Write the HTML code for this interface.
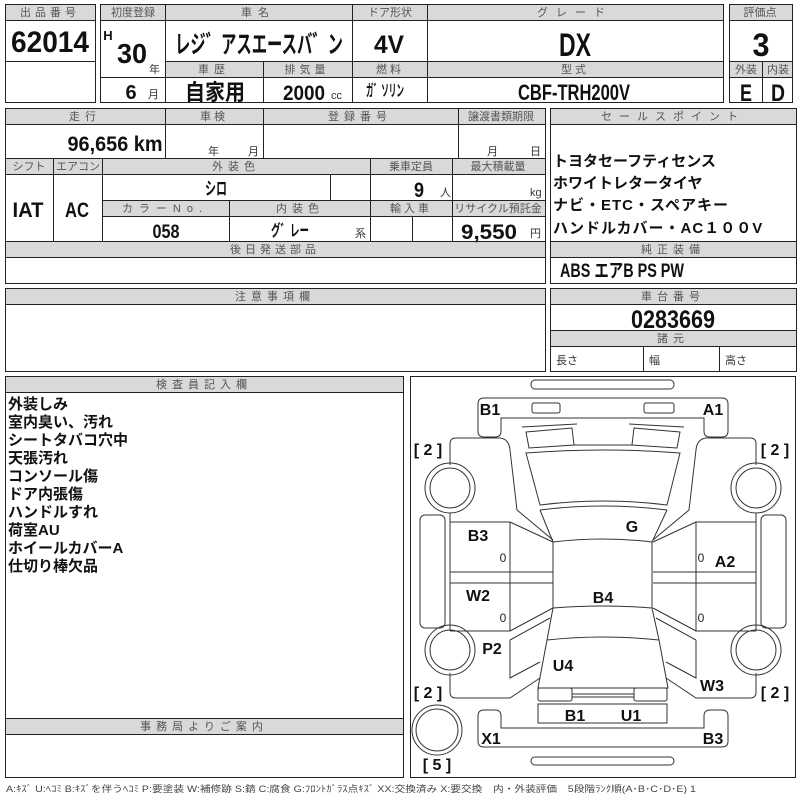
<!DOCTYPE html>
<html><head><meta charset="utf-8"><style>
html,body{margin:0;padding:0;background:#fff;}
svg{display:block;}
.h{font-family:"Liberation Sans","Noto Sans CJK JP",sans-serif;font-size:11px;fill:#555;text-anchor:middle;}
.v{font-family:"Liberation Sans","Noto Sans CJK JP",sans-serif;font-weight:bold;fill:#111;text-anchor:middle;}
.j{font-family:"Liberation Sans","Noto Sans CJK JP",sans-serif;font-weight:bold;fill:#111;}
.l{font-family:"Liberation Sans","Noto Sans CJK JP",sans-serif;font-weight:bold;font-size:16px;fill:#111;text-anchor:middle;}
.s{font-family:"Liberation Sans","Noto Sans CJK JP",sans-serif;font-size:11px;fill:#333;}
</style></head><body>
<svg width="800" height="800" viewBox="0 0 800 800" xmlns="http://www.w3.org/2000/svg">
<g fill="#d9d9d9" stroke="none">
<rect x="5" y="4" width="90" height="16"/>
<rect x="100" y="4" width="623" height="16"/>
<rect x="165" y="61" width="558" height="16"/>
<rect x="729" y="4" width="63" height="16"/>
<rect x="729" y="61" width="63" height="16"/>
<rect x="5" y="108" width="540" height="16"/>
<rect x="5" y="158" width="540" height="16"/>
<rect x="102" y="200" width="443" height="16"/>
<rect x="5" y="241" width="540" height="16"/>
<rect x="550" y="108" width="246" height="16"/>
<rect x="550" y="241" width="246" height="16"/>
<rect x="5" y="288" width="540" height="16"/>
<rect x="550" y="288" width="246" height="16"/>
<rect x="550" y="330" width="246" height="16"/>
<rect x="5" y="376" width="398" height="16"/>
<rect x="5" y="718" width="398" height="16"/>
</g>
<g fill="none" stroke="#222" stroke-width="1">
<rect x="5.5" y="4.5" width="90" height="98"/>
<line x1="5" y1="20.5" x2="95" y2="20.5"/><line x1="5" y1="61.5" x2="95" y2="61.5"/>
<rect x="100.5" y="4.5" width="623" height="98"/>
<line x1="100" y1="20.5" x2="723" y2="20.5"/>
<line x1="165" y1="61.5" x2="723" y2="61.5"/><line x1="165" y1="77.5" x2="723" y2="77.5"/>
<line x1="100" y1="77.5" x2="165" y2="77.5"/>
<line x1="165.5" y1="4" x2="165.5" y2="102"/><line x1="352.5" y1="4" x2="352.5" y2="102"/>
<line x1="427.5" y1="4" x2="427.5" y2="102"/><line x1="263.5" y1="61" x2="263.5" y2="102"/>
<rect x="729.5" y="4.5" width="63" height="98"/>
<line x1="729" y1="20.5" x2="792" y2="20.5"/><line x1="729" y1="61.5" x2="792" y2="61.5"/><line x1="729" y1="77.5" x2="792" y2="77.5"/>
<line x1="762.5" y1="61" x2="762.5" y2="102"/>

<rect x="5.5" y="108.5" width="540" height="175"/>
<line x1="5" y1="124.5" x2="545" y2="124.5"/><line x1="5" y1="158.5" x2="545" y2="158.5"/>
<line x1="5" y1="174.5" x2="545" y2="174.5"/><line x1="102" y1="200.5" x2="545" y2="200.5"/>
<line x1="102" y1="216.5" x2="545" y2="216.5"/><line x1="5" y1="241.5" x2="545" y2="241.5"/>
<line x1="5" y1="257.5" x2="545" y2="257.5"/>
<line x1="165.5" y1="108" x2="165.5" y2="158"/><line x1="263.5" y1="108" x2="263.5" y2="158"/>
<line x1="458.5" y1="108" x2="458.5" y2="158"/>
<line x1="53.5" y1="158" x2="53.5" y2="241"/><line x1="102.5" y1="158" x2="102.5" y2="241"/>
<line x1="370.5" y1="158" x2="370.5" y2="241"/><line x1="452.5" y1="158" x2="452.5" y2="241"/>
<line x1="330.5" y1="174" x2="330.5" y2="200"/><line x1="229.5" y1="200" x2="229.5" y2="241"/>
<line x1="412.5" y1="216" x2="412.5" y2="241"/>
<rect x="550.5" y="108.5" width="246" height="175"/>
<line x1="550" y1="124.5" x2="796" y2="124.5"/><line x1="550" y1="241.5" x2="796" y2="241.5"/><line x1="550" y1="257.5" x2="796" y2="257.5"/>

<rect x="5.5" y="288.5" width="540" height="83"/><line x1="5" y1="304.5" x2="545" y2="304.5"/>
<rect x="550.5" y="288.5" width="246" height="83"/>
<line x1="550" y1="304.5" x2="796" y2="304.5"/><line x1="550" y1="330.5" x2="796" y2="330.5"/><line x1="550" y1="346.5" x2="796" y2="346.5"/>
<line x1="643.5" y1="346" x2="643.5" y2="371"/><line x1="719.5" y1="346" x2="719.5" y2="371"/>

<rect x="5.5" y="376.5" width="398" height="401"/><line x1="5" y1="392.5" x2="403" y2="392.5"/>
<line x1="5" y1="718.5" x2="403" y2="718.5"/><line x1="5" y1="734.5" x2="403" y2="734.5"/>
<rect x="410.5" y="376.5" width="385" height="401"/>
</g>

<!-- headers -->
<text class="h" x="50" y="16" letter-spacing="4">出品番号</text>
<text class="h" x="133" y="16">初度登録</text>
<text class="h" x="258" y="16" letter-spacing="6">車名</text>
<text class="h" x="390" y="16">ドア形状</text>
<text class="h" x="575" y="16" letter-spacing="8">グレード</text>
<text class="h" x="760" y="16">評価点</text>
<text class="h" x="214" y="73" letter-spacing="5">車歴</text>
<text class="h" x="307" y="73" letter-spacing="4">排気量</text>
<text class="h" x="390" y="73" letter-spacing="3">燃料</text>
<text class="h" x="575" y="73" letter-spacing="3">型式</text>
<text class="h" x="746" y="73">外装</text><text class="h" x="778" y="73">内装</text>
<text class="h" x="85" y="120" letter-spacing="5">走行</text>
<text class="h" x="214" y="120" letter-spacing="3">車検</text>
<text class="h" x="360" y="120" letter-spacing="5">登録番号</text>
<text class="h" x="501" y="120">譲渡書類期限</text>
<text class="h" x="29" y="170">シフト</text><text class="h" x="78" y="170">エアコン</text>
<text class="h" x="236" y="170" letter-spacing="5">外装色</text>
<text class="h" x="411" y="170">乗車定員</text><text class="h" x="498" y="170">最大積載量</text>
<text class="h" x="165" y="212" letter-spacing="6">カラーNo.</text>
<text class="h" x="300" y="212" letter-spacing="5">内装色</text>
<text class="h" x="411" y="212" letter-spacing="3">輸入車</text>
<text class="h" x="498" y="212">リサイクル預託金</text>
<text class="h" x="275" y="253" letter-spacing="4">後日発送部品</text>
<text class="h" x="673" y="120" letter-spacing="7">セールスポイント</text>
<text class="h" x="673" y="253" letter-spacing="5">純正装備</text>
<text class="h" x="275" y="300" letter-spacing="5">注意事項欄</text>
<text class="h" x="673" y="300" letter-spacing="5">車台番号</text>
<text class="h" x="673" y="342" letter-spacing="5">諸元</text>
<text class="h" x="204" y="388" letter-spacing="5">検査員記入欄</text>
<text class="h" x="204" y="730" letter-spacing="5">事務局よりご案内</text>
<text class="s" x="556" y="364">長さ</text><text class="s" x="649" y="364">幅</text><text class="s" x="725" y="364">高さ</text>

<!-- values -->
<text class="v" x="50" y="52" font-size="30" textLength="78" lengthAdjust="spacingAndGlyphs">62014</text>
<text class="v" x="108" y="40" font-size="13">H</text>
<text class="v" x="132" y="63" font-size="28" textLength="30" lengthAdjust="spacingAndGlyphs">30</text>
<text class="s" x="149" y="73">年</text>
<text class="v" x="131" y="99" font-size="20">6</text><text class="s" x="148" y="98">月</text>
<text class="v" x="259" y="53" font-size="25" textLength="168" lengthAdjust="spacingAndGlyphs">レジ゛アスエースバ゛ン</text>
<text class="v" x="389" y="53" font-size="25" textLength="30" lengthAdjust="spacingAndGlyphs">4V</text>
<text class="v" x="575" y="56" font-size="32" textLength="32" lengthAdjust="spacingAndGlyphs">DX</text>
<text class="v" x="761" y="56" font-size="32" textLength="17" lengthAdjust="spacingAndGlyphs">3</text>
<text class="v" x="215" y="100" font-size="22" textLength="60" lengthAdjust="spacingAndGlyphs">自家用</text>
<text class="v" x="304" y="100" font-size="21" textLength="42" lengthAdjust="spacingAndGlyphs">2000</text><text class="s" x="331" y="99">cc</text>
<text class="v" x="385" y="96" font-size="16" textLength="38" lengthAdjust="spacingAndGlyphs">ガ゛ソリン</text>
<text class="v" x="574" y="100" font-size="22" textLength="112" lengthAdjust="spacingAndGlyphs">CBF-TRH200V</text>
<text class="v" x="746" y="101" font-size="24" textLength="12" lengthAdjust="spacingAndGlyphs">E</text><text class="v" x="778" y="101" font-size="24" textLength="14" lengthAdjust="spacingAndGlyphs">D</text>
<text class="v" x="115" y="151" font-size="21" textLength="95" lengthAdjust="spacingAndGlyphs">96,656 km</text>
<text class="s" x="208" y="155">年</text><text class="s" x="248" y="155">月</text>
<text class="s" x="487" y="155">月</text><text class="s" x="530" y="155">日</text>
<text class="v" x="28" y="217" font-size="21" textLength="31" lengthAdjust="spacingAndGlyphs">IAT</text>
<text class="v" x="77" y="217" font-size="21" textLength="24" lengthAdjust="spacingAndGlyphs">AC</text>
<text class="v" x="216" y="195" font-size="18" textLength="22" lengthAdjust="spacingAndGlyphs">シロ</text>
<text class="v" x="419" y="197" font-size="21" textLength="10" lengthAdjust="spacingAndGlyphs">9</text><text class="s" x="440" y="196">人</text>
<text class="s" x="530" y="196">kg</text>
<text class="v" x="166" y="238" font-size="19" textLength="27" lengthAdjust="spacingAndGlyphs">058</text>
<text class="v" x="290" y="236" font-size="16" textLength="38" lengthAdjust="spacingAndGlyphs">グ゛レー</text><text class="s" x="355" y="237">系</text>
<text class="v" x="489" y="239" font-size="21" textLength="56" lengthAdjust="spacingAndGlyphs">9,550</text><text class="s" x="530" y="237">円</text>
<g class="j" font-size="15">
<text x="553" y="166">トヨタセーフティセンス</text>
<text x="553" y="188">ホワイトレタータイヤ</text>
<text x="553" y="210" letter-spacing="1">ナビ・ETC・スペアキー</text>
<text x="553" y="233" letter-spacing="1">ハンドルカバー・AC１００V</text>
</g>
<text class="v" x="622" y="277" font-size="19" textLength="124" lengthAdjust="spacingAndGlyphs">ABS エアB PS PW</text>
<text class="v" x="673" y="328" font-size="25" textLength="84" lengthAdjust="spacingAndGlyphs">0283669</text>
<g class="j" font-size="15">
<text x="8" y="409">外装しみ</text>
<text x="8" y="427">室内臭い、汚れ</text>
<text x="8" y="445">シートタバコ穴中</text>
<text x="8" y="463">天張汚れ</text>
<text x="8" y="481">コンソール傷</text>
<text x="8" y="499">ドア内張傷</text>
<text x="8" y="517">ハンドルすれ</text>
<text x="8" y="535">荷室AU</text>
<text x="8" y="553">ホイールカバーA</text>
<text x="8" y="571">仕切り棒欠品</text>
</g>
<text x="6" y="792" font-family="Liberation Sans,Noto Sans CJK JP,sans-serif" font-size="9" fill="#444" textLength="690" lengthAdjust="spacingAndGlyphs">A:ｷｽﾞ U:ﾍｺﾐ B:ｷｽﾞを伴うﾍｺﾐ P:要塗装 W:補修跡 S:錆 C:腐食 G:ﾌﾛﾝﾄｶﾞﾗｽ点ｷｽﾞ XX:交換済み X:要交換　内・外装評価　5段階ﾗﾝｸ順(A･B･C･D･E) 1</text>

<!-- car diagram -->
<g fill="none" stroke="#333" stroke-width="1">
<rect x="531" y="380" width="143" height="9" rx="4"/>
<rect x="531" y="757" width="143" height="8" rx="4"/>
<path d="M484,398 L722,398 Q728,398 728,404 L728,431 Q728,437 722,437 L710,437 Q704,437 704,431 L704,418 L501,418 L501,431 Q501,437 495,437 L484,437 Q478,437 478,431 L478,404 Q478,398 484,398 Z"/>
<path d="M484,747 L722,747 Q728,747 728,741 L728,716 Q728,710 722,710 L710,710 Q704,710 704,716 L704,728 L501,728 L501,716 Q501,710 495,710 L484,710 Q478,710 478,716 L478,741 Q478,747 484,747 Z"/>
<rect x="532" y="403" width="28" height="10" rx="2"/><rect x="644" y="403" width="30" height="10" rx="2"/>
<path d="M522,427 L577,424"/><path d="M684,427 L629,424"/>
<path d="M526,432 L572,428 L574,445 L529,448 Z"/><path d="M680,432 L634,428 L632,445 L677,448 Z"/>
<path d="M574,445 L632,445"/>
<path d="M526,453 Q603,447 680,453 L667,505 Q603,497 540,505 Z"/>
<path d="M540,510 Q603,502 667,510"/>
<path d="M540,510 L553,542"/><path d="M667,510 L652,542"/>
<path d="M553,542 Q603,536 652,542 L652,608 Q603,604 553,608 Z"/>
<path d="M553,608 L547,640 Q603,634 659,640 L652,608"/>
<path d="M547,640 L538,688 L668,688 L659,640"/>
<rect x="538" y="688" width="34" height="13" rx="2"/><rect x="634" y="688" width="33" height="13" rx="2"/>
<path d="M572,694 L634,694 M572,697 L634,697"/>
<rect x="538" y="704" width="129" height="19"/>
<circle cx="437" cy="730" r="25"/><circle cx="437" cy="730" r="21"/>
<g id="side">
<path d="M450,465 L450,444 Q450,438 456,438 L500,438 Q509,439 510,450 L517,510 L553,540"/>
<circle cx="450" cy="488" r="25"/><circle cx="450" cy="488" r="20"/>
<circle cx="450" cy="650" r="25"/><circle cx="450" cy="650" r="20"/>
<rect x="420" y="515" width="25" height="113" rx="5"/>
<path d="M450,513 L450,631 M450,522 L510,522 L510,631 L450,631 M450,572 L553,572 M450,583 L553,583"/>
<path d="M510,522 L553,542 M510,631 L553,608"/>
<path d="M450,673 L450,692 Q450,698 456,698 L510,698 L540,678"/>
<path d="M510,640 L550,618 M510,640 L510,678 L540,662"/>
</g>
<use href="#side" transform="translate(1206,0) scale(-1,1)"/>
</g>
<g class="l">
<text x="490" y="415">B1</text><text x="713" y="415">A1</text>
<text x="632" y="532">G</text><text x="478" y="541">B3</text><text x="725" y="567">A2</text>
<text x="478" y="601">W2</text><text x="603" y="603">B4</text>
<text x="492" y="654">P2</text><text x="563" y="671">U4</text><text x="712" y="691">W3</text>
<text x="575" y="721">B1</text><text x="631" y="721">U1</text>
<text x="491" y="744">X1</text><text x="713" y="744">B3</text>
<text x="428" y="455">[ 2 ]</text><text x="775" y="455">[ 2 ]</text>
<text x="428" y="698">[ 2 ]</text><text x="775" y="698">[ 2 ]</text>
<text x="437" y="770">[ 5 ]</text>
</g>
<g font-family="Liberation Sans,sans-serif" font-size="12" fill="#222" text-anchor="middle">
<text x="503" y="562">0</text><text x="701" y="562">0</text><text x="503" y="622">0</text><text x="701" y="622">0</text>
</g>
</svg>
</body></html>
